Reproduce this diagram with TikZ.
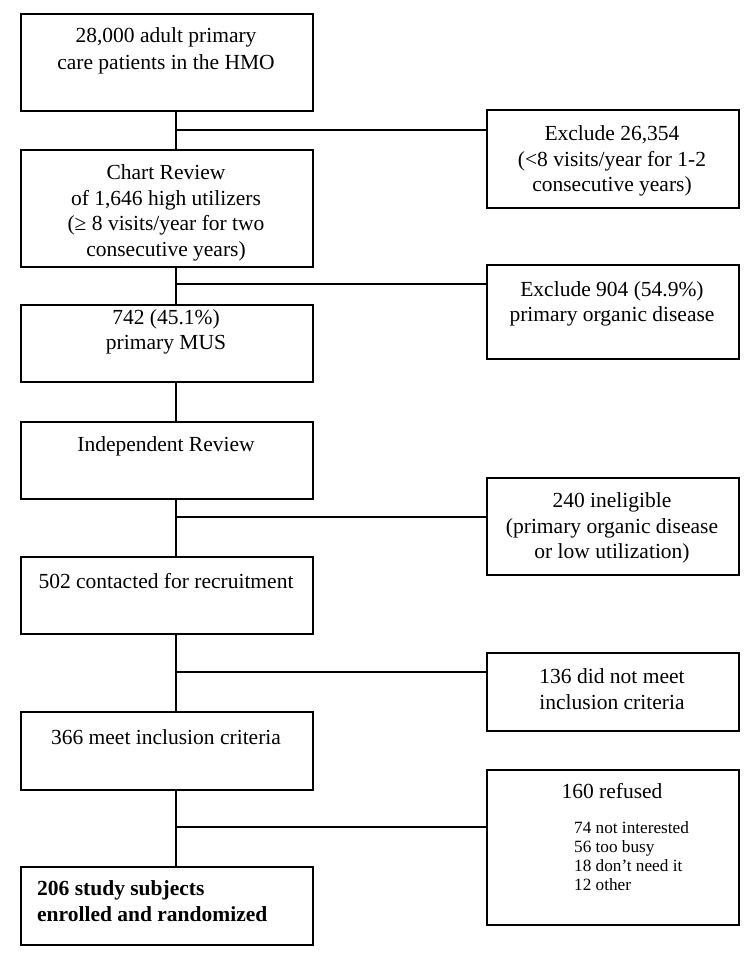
\documentclass[tikz,border=0pt]{standalone}
\usepackage{fontspec}
\setmainfont{Liberation Serif}
\begin{document}
\begin{tikzpicture}[x=1pt,y=-1pt,
  box/.style={draw, line width=1.6pt, anchor=north west, inner sep=0pt},
  lbox/.style={box, minimum width=292pt},
  rbox/.style={box, minimum width=252pt},
  txt/.style={align=center, inner sep=0pt, font=\fontsize{21.5}{25.5}\selectfont},
  small/.style={align=left, inner sep=0pt, font=\fontsize{17.2}{19.2}\selectfont},
  conn/.style={line width=1.6pt}]
\useasboundingbox (0,0) rectangle (752,956);
% left column boxes
\node[lbox, minimum height=97pt] (b1) at (20,13) {};
\node[lbox, minimum height=117pt] (b2) at (20,149) {};
\node[lbox, minimum height=77pt] (b3) at (20,304) {};
\node[lbox, minimum height=77pt] (b4) at (20,421) {};
\node[lbox, minimum height=77pt] (b5) at (20,556) {};
\node[lbox, minimum height=78pt] (b6) at (20,711) {};
\node[lbox, minimum height=78pt] (b7) at (20,866) {};
% right column boxes
\node[rbox, minimum height=98pt] (r1) at (486,109) {};
\node[rbox, minimum height=94pt] (r2) at (486,264) {};
\node[rbox, minimum height=97pt] (r3) at (486,477) {};
\node[rbox, minimum height=78pt] (r4) at (486,652) {};
\node[rbox, minimum height=155pt] (r5) at (486,769) {};
% texts
\node[txt, font=\fontsize{21.5}{26.5}\selectfont] (t1) at (166,51) {28,000 adult primary\\care patients in the HMO};
\node[txt] (t2) at (166,213) {Chart Review\\of 1,646 high utilizers\\(≥ 8 visits/year for two\\consecutive years)};
\node[txt] (t3) at (166,332) {742 (45.1\%)\\primary MUS};
\node[txt] (t4) at (166,446) {Independent Review};
\node[txt] (t5) at (166,581) {502 contacted for recruitment};
\node[txt] (t6) at (166,737) {366 meet inclusion criteria};
\node[txt, align=left, anchor=west, font=\fontsize{21.5}{26}\selectfont\bfseries] (t7) at (37,901) {206 study subjects\\enrolled and randomized};
\node[txt] (s1) at (612,161) {Exclude 26,354\\(<8 visits/year for 1-2\\consecutive years)};
\node[txt] (s2) at (612,304) {Exclude 904 (54.9\%)\\primary organic disease};
\node[txt] (s3) at (612,528) {240 ineligible\\(primary organic disease\\or low utilization)};
\node[txt] (s4) at (612,689) {136 did not meet\\inclusion criteria};
\node[txt] (s5) at (612,791) {160 refused};
\node[small, anchor=west] (s6) at (574,856) {74 not interested\\56 too busy\\18 don’t need it\\12 other};
% junctions
\coordinate (j1) at (176,130);
\coordinate (j2) at (176,284);
\coordinate (j3) at (176,517);
\coordinate (j4) at (176,672);
\coordinate (j5) at (176,827);
% vertical connectors
\draw[conn] (b1.south -| j1) -- (b2.north -| j1);
\draw[conn] (b2.south -| j1) -- (b3.north -| j1);
\draw[conn] (b3.south -| j1) -- (b4.north -| j1);
\draw[conn] (b4.south -| j1) -- (b5.north -| j1);
\draw[conn] (b5.south -| j1) -- (b6.north -| j1);
\draw[conn] (b6.south -| j1) -- (b7.north -| j1);
% horizontal branches
\draw[conn] (j1) -- (j1 -| r1.west);
\draw[conn] (j2) -- (j2 -| r2.west);
\draw[conn] (j3) -- (j3 -| r3.west);
\draw[conn] (j4) -- (j4 -| r4.west);
\draw[conn] (j5) -- (j5 -| r5.west);
\end{tikzpicture}
\end{document}
